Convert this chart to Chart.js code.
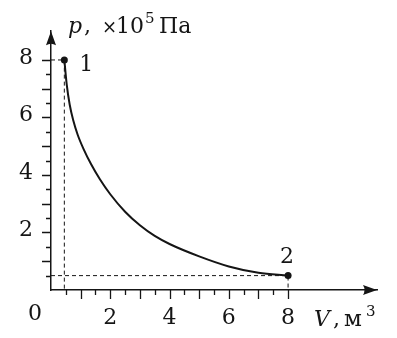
<!DOCTYPE html>
<html>
<head>
    <title>p-V diagram</title>
    <script src="https://cdn.jsdelivr.net/npm/chart.js"></script>
    <style>
        body { margin: 0; background: #fff; }
        canvas { display: block; }
    </style>
</head>
<body>
    <canvas id="myChart" width="397" height="338"></canvas>

    <script>
        // values
        const volume = [0.45, 0.53, 0.63, 0.75, 0.9, 1.1, 1.35, 1.65, 2.0, 2.5, 3.0, 3.5, 4.0, 5.0, 6.0, 7.0, 8.0];
        const pressure = [8.0, 7.15, 6.45, 5.9, 5.4, 4.9, 4.38, 3.85, 3.33, 2.72, 2.25, 1.88, 1.6, 1.17, 0.82, 0.6, 0.5];
        const stateV = [0.45, 8];
        const stateP = [8, 0.5];
        const stateNames = ['1', '2'];
        const xTickLabels = [2, 4, 6, 8];
        const yTickLabels = [2, 4, 6, 8];

        const ink = '#151515';
        const serif = '"DejaVu Serif", serif';

        const curve = volume.map((v, i) => ({ x: v, y: pressure[i] }));
        const guide1 = [{ x: 0, y: stateP[0] }, { x: stateV[0], y: stateP[0] }, { x: stateV[0], y: 0 }];
        const guide2 = [{ x: 0, y: stateP[1] }, { x: stateV[1], y: stateP[1] }, { x: stateV[1], y: 0 }];

        // text pieces, each with its own font and x
        function drawPieces(ctx, y, pieces) {
            pieces.forEach(p => {
                ctx.font = p.font;
                ctx.fillText(p.t, p.x, y + (p.dy || 0));
            });
        }

        function arrow(ctx, x, y, dir) {
            ctx.save();
            ctx.translate(x, y);
            if (dir === 'right') ctx.rotate(Math.PI / 2);
            ctx.beginPath();
            ctx.moveTo(0, 0);
            ctx.lineTo(5, 14);
            ctx.quadraticCurveTo(0, 11, -5, 14);
            ctx.closePath();
            ctx.fill();
            ctx.restore();
        }

        const extras = {
            id: 'extras',
            afterDraw(chart) {
                const ctx = chart.ctx;
                const xs = chart.scales.x, ys = chart.scales.y;
                const x0 = xs.getPixelForValue(0), y0 = ys.getPixelForValue(0);
                ctx.save();
                ctx.fillStyle = ink;
                ctx.strokeStyle = ink;
                ctx.lineWidth = 1.3;

                // tick marks: long at integers, short at halves
                ctx.beginPath();
                for (let v = 0.5; v <= 8; v += 0.5) {
                    const len = Number.isInteger(v) ? 9 : 5;
                    const px = Math.round(xs.getPixelForValue(v)) + 0.5;
                    ctx.moveTo(px, y0);
                    ctx.lineTo(px, y0 + len);
                    const py = Math.round(ys.getPixelForValue(v)) + 0.5;
                    ctx.moveTo(x0, py);
                    ctx.lineTo(x0 - len, py);
                }
                ctx.stroke();

                arrow(ctx, x0, ys.getPixelForValue(ys.max), 'up');
                arrow(ctx, xs.getPixelForValue(xs.max), y0, 'right');

                // state numbers and origin
                ctx.textAlign = 'center';
                ctx.textBaseline = 'alphabetic';
                ctx.font = '22px ' + serif;
                ctx.fillText(stateNames[0], xs.getPixelForValue(stateV[0]) + 22, ys.getPixelForValue(stateP[0]) + 11);
                ctx.fillText(stateNames[1], xs.getPixelForValue(stateV[1]) - 1, ys.getPixelForValue(stateP[1]) - 13);
                ctx.fillText('0', x0 - 16, y0 + 30);

                // axis titles
                ctx.textAlign = 'left';
                drawPieces(ctx, 33, [
                    { t: 'p', x: 68, font: 'italic 22px ' + serif },
                    { t: ',', x: 84, font: '22px ' + serif },
                    { t: '×', x: 102, font: '18px ' + serif },
                    { t: '10', x: 116, font: '22px ' + serif },
                    { t: '5', x: 145, font: '15px ' + serif, dy: -10 },
                    { t: 'Па', x: 159, font: '22px ' + serif }
                ]);
                drawPieces(ctx, 326, [
                    { t: 'V', x: 314, font: 'italic 22px ' + serif },
                    { t: ',', x: 333, font: '22px ' + serif },
                    { t: 'м', x: 344, font: '23px ' + serif },
                    { t: '3', x: 366, font: '15px ' + serif, dy: -10 }
                ]);
                ctx.restore();
            }
        };

        const ctx = document.getElementById('myChart').getContext('2d');
        const myChart = new Chart(ctx, {
            type: 'scatter',
            data: {
                datasets: [{
                    data: curve,
                    showLine: true,
                    borderColor: ink,
                    borderWidth: 2,
                    pointRadius: 0,
                    cubicInterpolationMode: 'monotone',
                    order: 2
                }, {
                    data: guide1,
                    showLine: true,
                    borderColor: ink,
                    borderWidth: 1,
                    borderDash: [4, 3],
                    pointRadius: 0,
                    order: 3
                }, {
                    data: guide2,
                    showLine: true,
                    borderColor: ink,
                    borderWidth: 1,
                    borderDash: [4, 3],
                    pointRadius: 0,
                    order: 3
                }, {
                    data: stateV.map((v, i) => ({ x: v, y: stateP[i] })),
                    pointRadius: 3.5,
                    pointBackgroundColor: ink,
                    pointBorderWidth: 0,
                    order: 1
                }]
            },
            options: {
                responsive: false,
                animation: false,
                events: [],
                layout: { padding: { top: 24, right: 20, left: 0, bottom: 0 } },
                plugins: { legend: { display: false }, tooltip: { enabled: false } },
                scales: {
                    x: {
                        type: 'linear',
                        min: 0,
                        max: 11,
                        grid: { display: false, drawTicks: false },
                        border: { display: true, color: ink, width: 1.5 },
                        afterFit: s => { s.height = 48; },
                        afterBuildTicks: s => { s.ticks = xTickLabels.map(v => ({ value: v })); },
                        ticks: { color: ink, padding: 15, font: { family: serif, size: 22 } }
                    },
                    y: {
                        type: 'linear',
                        min: 0,
                        max: 9,
                        grid: { display: false, drawTicks: false },
                        border: { display: true, color: ink, width: 1.5 },
                        afterFit: s => { s.width = 51; },
                        afterBuildTicks: s => { s.ticks = yTickLabels.map(v => ({ value: v })); },
                        ticks: { color: ink, padding: 18, labelOffset: -2, font: { family: serif, size: 22 } }
                    }
                }
            },
            plugins: [extras]
        });
    </script>
</body>
</html>
